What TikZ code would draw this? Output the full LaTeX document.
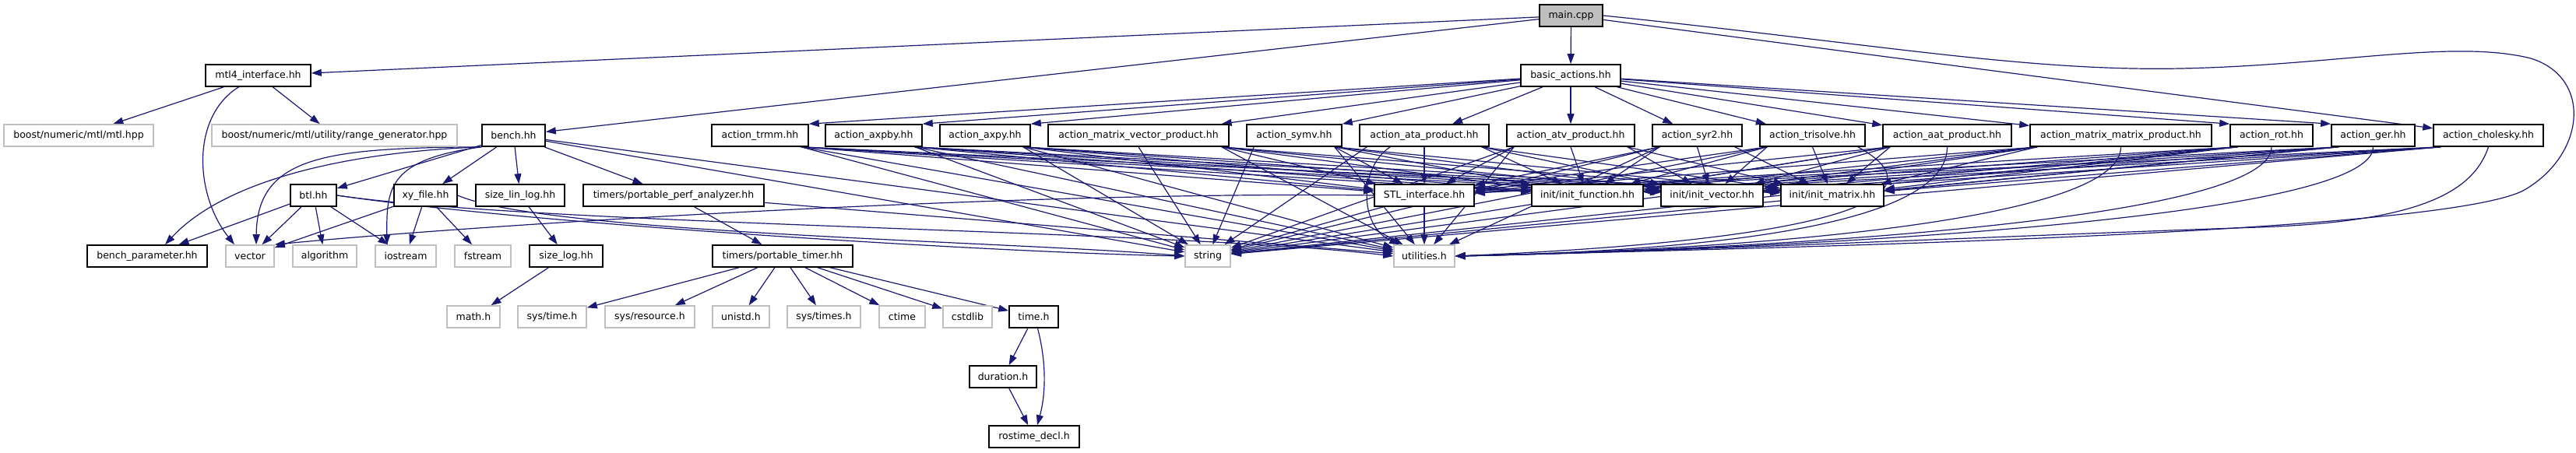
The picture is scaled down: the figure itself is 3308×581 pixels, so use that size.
\documentclass[tikz,border=0pt]{standalone}
\usepackage{fontspec}
\setmainfont{DejaVu Sans}
\usetikzlibrary{arrows.meta,backgrounds,calc}
\definecolor{edgec}{RGB}{25,25,112}
\definecolor{extc}{RGB}{191,191,191}
\definecolor{rootc}{RGB}{191,191,191}
\tikzset{
  fbox/.style={draw=black, line width=1.6pt, fill=white, minimum height=28pt, inner sep=0pt, font=\fontsize{12.5}{14}\selectfont},
  ebox/.style={fbox, draw=extc},
  rbox/.style={fbox, fill=rootc},
  dep/.style={draw=edgec, line width=1.2pt, -{Triangle[length=13pt,width=9pt]}},
}
\begin{document}
\begin{tikzpicture}[x=1pt,y=-1pt]
\useasboundingbox (0,0) rectangle (3308,581);
% row 0/1
\node[rbox, minimum width=81pt]  (main)  at (2017.5,20) {main.cpp};
\node[fbox, minimum width=135pt] (mtl4)  at (331.5,97) {mtl4\_interface.hh};
\node[fbox, minimum width=128pt] (basic) at (2017,97) {basic\_actions.hh};
% row 2
\node[ebox, minimum width=192pt] (mtlhpp)   at (101,174)   {boost/numeric/mtl/mtl.hpp};
\node[ebox, minimum width=315pt] (rangegen) at (429.5,174) {boost/numeric/mtl/utility/range\_generator.hpp};
\node[fbox, minimum width=81pt]  (bench)    at (659.5,174) {bench.hh};
\node[fbox, minimum width=124pt] (trmm)     at (976,174)   {action\_trmm.hh};
\node[fbox, minimum width=124pt] (axpby)    at (1122,174)  {action\_axpby.hh};
\node[fbox, minimum width=116pt] (axpy)     at (1265,174)  {action\_axpy.hh};
\node[fbox, minimum width=232pt] (mvp)      at (1462,174)  {action\_matrix\_vector\_product.hh};
\node[fbox, minimum width=122pt] (symv)     at (1662,174)  {action\_symv.hh};
\node[fbox, minimum width=166pt] (ata)      at (1829,174)  {action\_ata\_product.hh};
\node[fbox, minimum width=164pt] (atv)      at (2017,174)  {action\_atv\_product.hh};
\node[fbox, minimum width=115pt] (syr2)     at (2179.5,174) {action\_syr2.hh};
\node[fbox, minimum width=135pt] (trisolve) at (2327.5,174) {action\_trisolve.hh};
\node[fbox, minimum width=165pt] (aat)      at (2500.5,174) {action\_aat\_product.hh};
\node[fbox, minimum width=233pt] (mmp)      at (2723.5,174) {action\_matrix\_matrix\_product.hh};
\node[fbox, minimum width=106pt] (rot)      at (2917,174)  {action\_rot.hh};
\node[fbox, minimum width=107pt] (ger)      at (3047.5,174) {action\_ger.hh};
\node[fbox, minimum width=141pt] (chol)     at (3195.5,174) {action\_cholesky.hh};
% row 3
\node[fbox, minimum width=59pt]  (btl)     at (402.5,251) {btl.hh};
\node[fbox, minimum width=81pt]  (xy)      at (546.5,251) {xy\_file.hh};
\node[fbox, minimum width=114pt] (sizelin) at (668,251)   {size\_lin\_log.hh};
\node[fbox, minimum width=232pt] (perf)    at (865,251)   {timers/portable\_perf\_analyzer.hh};
\node[fbox, minimum width=128pt] (STL)     at (1829,251)  {STL\_interface.hh};
\node[fbox, minimum width=143pt] (initf)   at (2038.5,251) {init/init\_function.hh};
\node[fbox, minimum width=131pt] (initv)   at (2198.5,251) {init/init\_vector.hh};
\node[fbox, minimum width=132pt] (initm)   at (2353,251)  {init/init\_matrix.hh};
% row 4
\node[fbox, minimum width=154pt] (benchparam) at (189,329) {bench\_parameter.hh};
\node[ebox, minimum width=62pt]  (vector)     at (321,329) {vector};
\node[ebox, minimum width=82pt]  (algorithm)  at (417,329) {algorithm};
\node[ebox, minimum width=78pt]  (iostream)   at (521,329) {iostream};
\node[ebox, minimum width=72pt]  (fstream)    at (620,329) {fstream};
\node[fbox, minimum width=94pt]  (sizelog)    at (727,329) {size\_log.hh};
\node[fbox, minimum width=180pt] (timer)      at (1005,329) {timers/portable\_timer.hh};
\node[ebox, minimum width=58pt]  (string)     at (1551,329) {string};
\node[ebox, minimum width=78pt]  (utilities)  at (1829,329) {utilities.h};
% row 5
\node[ebox, minimum width=68pt]  (math)     at (608,407)    {math.h};
\node[ebox, minimum width=88pt]  (systime)  at (709,407)    {sys/time.h};
\node[ebox, minimum width=115pt] (sysres)   at (834.5,407)  {sys/resource.h};
\node[ebox, minimum width=73pt]  (unistd)   at (951.5,407)  {unistd.h};
\node[ebox, minimum width=94pt]  (systimes) at (1058,407)   {sys/times.h};
\node[ebox, minimum width=59pt]  (ctime)    at (1158.5,407) {ctime};
\node[ebox, minimum width=63pt]  (cstdlib)  at (1242.5,407) {cstdlib};
\node[fbox, minimum width=63pt]  (timeh)    at (1327.5,407) {time.h};
% rows 6/7
\node[fbox, minimum width=86pt]  (duration) at (1288,484) {duration.h};
\node[fbox, minimum width=116pt] (rostime)  at (1328,561) {rostime\_decl.h};

\begin{scope}[on background layer]
% main.cpp
\draw[dep] (main) -- (mtl4);
\draw[dep] (main) -- (bench);
\draw[dep] (main) -- (basic);
\draw[dep] (main) -- (chol);
\draw[dep] (main.east) .. controls (2400,55) and (2600,92) .. (2800,88)
  .. controls (3000,84) and (3150,50) .. (3250,75)
  .. controls (3330,100) and (3320,200) .. (3240,245)
  .. controls (3130,300) and (2300,318) .. (utilities.east);
% basic_actions
\foreach \a in {ata,atv,syr2,trisolve,aat,mmp,mvp} \draw[dep] (basic) -- (\a);
\foreach \a in {trmm,axpby,axpy,symv} \draw[dep] (basic) -- (\a.north east);
\foreach \a in {rot,ger} \draw[dep] (basic) -- (\a.north west);
% actions: edges leave from the bottom edge
\foreach \a/\t in {trmm/STL,trmm/initf,trmm/initv,trmm/initm,trmm/string,trmm/utilities,
  axpby/STL,axpby/initf,axpby/initv,axpby/initm,axpby/string,axpby/utilities,
  axpy/STL,axpy/initf,axpy/initv,axpy/initm,axpy/string,axpy/utilities,
  mvp/STL,mvp/initf,mvp/initv,mvp/initm,mvp/utilities,
  symv/STL,symv/initf,symv/initv,symv/initm,symv/utilities,
  ata/initf,ata/initv,ata/initm,
  atv/initv,atv/initm,
  syr2/initm}
  \draw[dep] ($(\a.south east)+(-10,0)$) -- (\t);
\foreach \a/\t in {mvp/string,ata/STL,atv/initf,syr2/initv,trisolve/initm}
  \draw[dep] (\a.south) -- (\t);
\foreach \a/\t in {symv/string,ata/string,
  atv/STL,atv/string,atv/utilities,
  syr2/STL,syr2/initf,syr2/string,syr2/utilities,
  trisolve/STL,trisolve/initf,trisolve/initv,trisolve/string,
  aat/STL,aat/initf,aat/initv,aat/initm,aat/string,
  mmp/STL,mmp/initf,mmp/initv,mmp/initm,mmp/string,
  rot/STL,rot/initf,rot/initv,rot/initm,rot/string,
  ger/STL,ger/initf,ger/initv,ger/initm,ger/string,
  chol/STL,chol/initf,chol/initv,chol/initm,chol/string}
  \draw[dep] ($(\a.south west)+(10,0)$) -- (\t);
\draw[dep] ($(ata.south west)+(40,0)$) .. controls (1745,215) and (1745,290) .. (utilities);
\draw[dep] ($(trisolve.south east)+(-10,0)$) .. controls (2480,240) and (2430,305) .. (utilities.east);
\foreach \a in {aat,mmp,rot,ger}
  \draw[dep] (\a.south) .. controls +(0,100) and (2200,322) .. (utilities.east);
\draw[dep] (chol.south) .. controls (3175,250) and (3100,285) .. (2900,292)
  .. controls (2600,302) and (2100,325) .. (utilities.east);
% STL_interface
\draw[dep] (STL) -- (string);
\draw[dep] (STL) -- (utilities);
\draw[dep] (STL.west) .. controls (1300,245) and (600,290) .. (vector.north east);
% mtl4_interface
\draw[dep] (mtl4) -- (mtlhpp);
\draw[dep] (mtl4) -- (rangegen);
\draw[dep] ([xshift=-25pt]mtl4.south) .. controls (245,150) and (250,250) .. ([xshift=-20pt]vector.north);
% bench.hh
\draw[dep] (bench) -- (btl);
\draw[dep] (bench) -- (xy);
\draw[dep] (bench) -- (sizelin);
\draw[dep] (bench) -- (perf);
\draw[dep] (bench) -- (string);
\draw[dep] (bench) -- (utilities);
\draw[dep] (bench.south west) .. controls (450,195) and (290,230) .. ([xshift=23pt]benchparam.north);
\draw[dep] (bench.south west) .. controls (420,190) and (330,200) .. ([xshift=8pt]vector.north);
\draw[dep] (bench.south west) .. controls (500,205) and (496,240) .. ([xshift=-24pt]iostream.north);
% btl.hh
\foreach \t in {benchparam,vector,algorithm,iostream} \draw[dep] (btl) -- (\t);
\draw[dep] (btl.east) .. controls (700,290) and (1300,325) .. (string.west);
\draw[dep] (btl.east) .. controls (700,290) and (1500,295) .. (utilities.west);
% xy_file.hh
\foreach \t in {vector,iostream,fstream} \draw[dep] (xy) -- (\t);
\draw[dep] (xy.east) .. controls (700,300) and (1300,310) .. (string.west);
% size logs
\draw[dep] (sizelin) -- (sizelog);
\draw[dep] (sizelog) -- (math);
% perf analyzer
\draw[dep] (perf) -- (timer);
\draw[dep] (perf) -- (utilities);
% timer
\foreach \t in {systime,sysres,unistd,systimes,ctime,cstdlib,timeh} \draw[dep] (timer) -- (\t);
% time.h
\draw[dep] (timeh) -- (duration);
\draw[dep] (duration) -- (rostime);
\draw[dep] ([xshift=5pt]timeh.south) .. controls (1345,470) and (1342,510) .. ([xshift=4pt]rostime.north);
\end{scope}
\end{tikzpicture}
\end{document}
